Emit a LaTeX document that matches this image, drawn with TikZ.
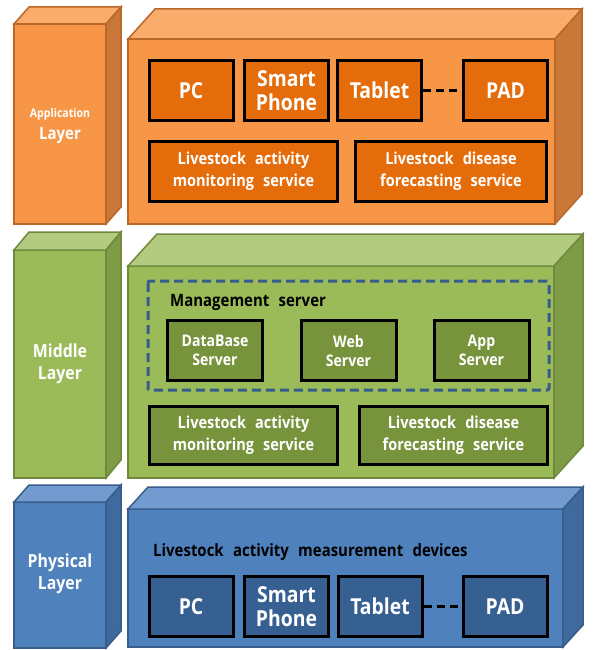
\documentclass[tikz,border=0pt]{standalone}
\usepackage{fontspec}
\setmainfont{Open Sans}[FakeStretch=0.88, WordSpace=2.4]

% layer colours: front face, top face, side face, edge, inner box
\definecolor{ofront}{HTML}{F79646}
\definecolor{otop}{HTML}{F9AC6C}
\definecolor{oside}{HTML}{C9783A}
\definecolor{oedge}{HTML}{B9682A}
\definecolor{obox}{HTML}{E46C0A}
\definecolor{gfront}{HTML}{9BBB59}
\definecolor{gtop}{HTML}{B2CB80}
\definecolor{gside}{HTML}{7E9B45}
\definecolor{gedge}{HTML}{71893F}
\definecolor{gbox}{HTML}{77933C}
\definecolor{bfront}{HTML}{4F81BD}
\definecolor{btop}{HTML}{739BD0}
\definecolor{bside}{HTML}{3F6A9D}
\definecolor{bedge}{HTML}{385D8A}
\definecolor{bbox}{HTML}{376092}
\definecolor{mgmt}{HTML}{375C8C}

% 3-D slab: front corners (#1,#2)-(#3,#4), depth (#5,#6), colour prefix #7
\newcommand\slab[7]{%
  \filldraw[fill=#7front, draw=#7edge, slabedge] (#1,#2) rectangle (#3,#4);
  \filldraw[fill=#7top, draw=#7edge, slabedge]
    (#1,#2) -- ({#1+#5},{#2-#6}) -- ({#3+#5},{#2-#6}) -- (#3,#2) -- cycle;
  \filldraw[fill=#7side, draw=#7edge, slabedge]
    (#3,#2) -- ({#3+#5},{#2-#6}) -- ({#3+#5},{#4-#6}) -- (#3,#4) -- cycle;
}

\tikzset{
  slabedge/.style={line width=1.5pt, line join=miter},
  ibox/.style={draw=black, line width=3pt, text=white, align=center,
    inner sep=0pt, font=\bfseries},
  dev/.style={ibox, minimum width=84, minimum height=60,
    font=\fontsize{22}{24}\selectfont\bfseries},
  svc/.style={ibox, minimum height=60,
    font=\fontsize{16.5}{22}\selectfont\bfseries},
  srv/.style={ibox, minimum width=95, minimum height=60,
    font=\fontsize{16}{19}\selectfont\bfseries},
  lbl/.style={text=white, align=center, inner sep=0pt,
    font=\fontsize{18}{22}\selectfont\bfseries},
  caption/.style={text=black, anchor=west, inner sep=0pt,
    font=\fontsize{17}{19}\selectfont\bfseries},
  link/.style={draw=black, line width=3pt, dash pattern=on 8pt off 5pt},
}

\begin{document}
\begin{tikzpicture}[x=1pt, y=-1pt]
\useasboundingbox (0,0) rectangle (593,650);

% ---------- application layer ----------
\slab{14}{24}{106}{224}{15}{17}{o}
\slab{128}{39}{555}{224}{27}{30}{o}
\node[lbl, font=\fontsize{12}{14}\selectfont\bfseries] (appA) at (60,114) {Application};
\node[lbl, font=\fontsize{17}{20}\selectfont\bfseries] (appL) at (60,135) {Layer};

\node[dev, fill=obox] (pcA)     at (191,91)    {PC};
\node[dev, fill=obox] (phoneA)  at (286.5,90.5) {Smart\\Phone};
\node[dev, fill=obox] (tabA)    at (379.5,90.5) {Tablet};
\node[dev, fill=obox] (padA)    at (505.5,90.5) {PAD};
\draw[link] (tabA) -- (padA);
\node[svc, fill=obox, minimum width=188] (monA) at (243.5,171.5)
  {Livestock activity\\monitoring service};
\node[svc, fill=obox, minimum width=191] (foreA) at (451,171.5)
  {Livestock disease\\forecasting service};

% ---------- middle layer ----------
\slab{14}{250}{106}{478}{15}{18}{g}
\slab{128}{266}{554}{478}{29}{32}{g}
\node[lbl] (midL) at (60,364) {Middle\\Layer};

\draw[mgmt, line width=3pt, dash pattern=on 9pt off 5pt, rounded corners=2pt]
  (148,281) rectangle (549,390);
\node[caption] (mgmtT) at (170,302) {Management server};
\node[srv, fill=gbox] (dbM)  at (215,350.5)   {DataBase\\Server};
\node[srv, fill=gbox] (webM) at (348.5,350.5) {Web\\Server};
\node[srv, fill=gbox] (appM) at (481.5,350.5) {App\\Server};
\node[svc, fill=gbox, minimum width=188, minimum height=58] (monM) at (243.5,435.5)
  {Livestock activity\\monitoring service};
\node[svc, fill=gbox, minimum width=188, minimum height=58] (foreM) at (453.5,435.5)
  {Livestock disease\\forecasting service};

% ---------- physical layer ----------
\slab{14}{502}{106}{648}{15}{17}{b}
\slab{128}{509}{563}{647}{20}{22}{b}
\node[lbl] (phyL) at (60,574) {Physical\\Layer};
\node[caption] (devT) at (153,552) {Livestock activity measurement devices};

\node[dev, fill=bbox] (pcP)    at (191,606.5)   {PC};
\node[dev, fill=bbox] (phoneP) at (286.5,606.5) {Smart\\Phone};
\node[dev, fill=bbox] (tabP)   at (380,606.5)   {Tablet};
\node[dev, fill=bbox] (padP)   at (505,606.5)   {PAD};
\draw[link] (tabP) -- (padP);
\end{tikzpicture}
\end{document}
